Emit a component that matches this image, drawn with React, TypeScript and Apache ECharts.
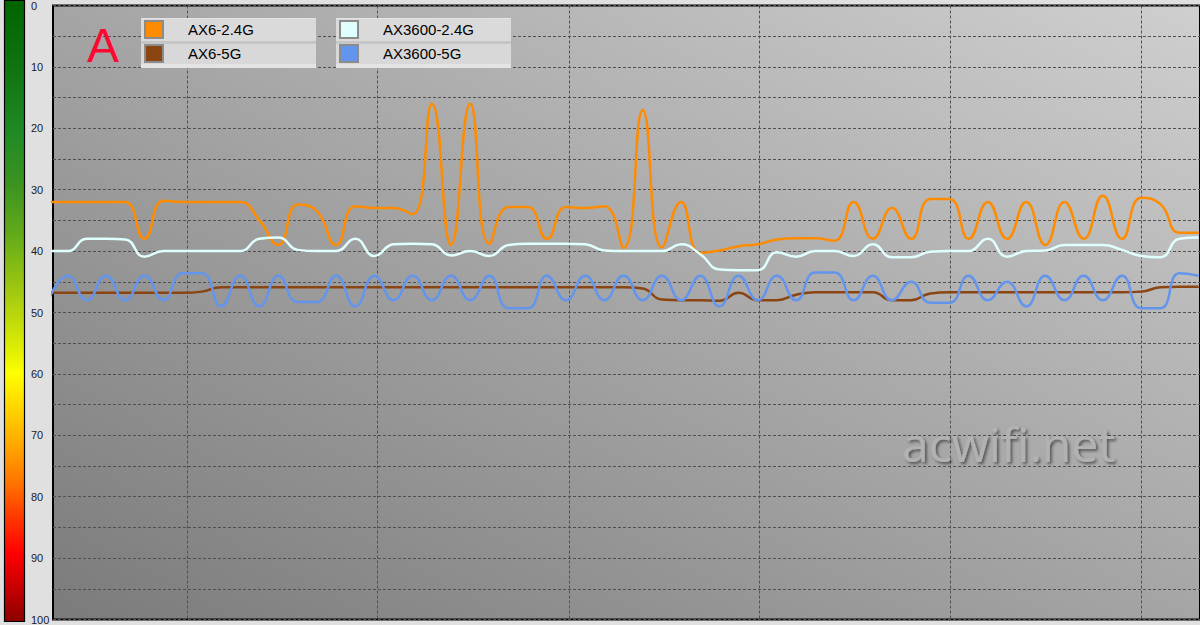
import React, { useEffect, useRef } from "react";
import * as echarts from "echarts";

// Series names and colours
const SERIES_NAMES = ["AX6-2.4G", "AX6-5G", "AX3600-2.4G", "AX3600-5G"];
const SERIES_COLORS = ["#ff8c00", "#8b4513", "#e0ffff", "#6495ed"];

// Signal values (dBm magnitude) per sample index 0..60
const AX6_24G = [
  32, 32, 32, 32, 32, 38, 31.8, 32, 32, 32,
  32, 35, 39, 32.4, 33.5, 39, 32.7, 33, 33, 34,
  16, 39, 16, 38.8, 32.8, 32.8, 38, 32.8, 33, 32.7,
  39.5, 17, 39.4, 32, 40.3, 39.9, 39.2, 38.9, 38.1, 37.9,
  37.9, 38.3, 32, 38, 33, 38, 31.5, 31.5, 38, 32,
  38, 32, 39, 32, 38, 31, 38, 31.3, 32.3, 37,
  37,
];
const AX6_5G = [
  46.8, 46.8, 46.8, 46.8, 46.8, 46.8, 46.8, 46.8, 46.6, 45.9,
  45.9, 45.9, 45.9, 45.9, 45.9, 45.9, 45.9, 45.9, 45.9, 45.9,
  45.9, 45.9, 45.9, 45.9, 45.9, 45.9, 45.9, 45.9, 45.9, 45.9,
  45.9, 46.1, 47.9, 48, 48, 48.1, 46.8, 48, 48, 47.1,
  46.7, 46.7, 46.7, 46.7, 48, 48, 46.9, 46.7, 46.7, 46.7,
  46.7, 46.7, 46.7, 46.7, 46.7, 46.7, 46.7, 46.6, 45.9, 45.8,
  45.8,
];
const AX3600_24G = [
  40, 40, 38, 38, 38.1, 40.9, 40, 40, 40, 40,
  40, 38, 37.8, 39.8, 40, 40, 38, 40.8, 38.9, 38.8,
  38.9, 40.7, 40, 40.8, 39, 38.8, 38.8, 38.8, 38.9, 39.9,
  40, 40, 40, 38.9, 40.5, 43, 43.1, 43.1, 40.2, 40.9,
  40, 40, 40.8, 38.9, 41, 41, 40.1, 40, 40, 38,
  40.9, 40, 39.9, 39, 39, 39, 39.8, 40.8, 41, 38,
  37.8,
];
const AX3600_5G = [
  48, 44, 48, 44, 48, 44, 48, 43.6, 43.6, 49,
  44, 49, 44, 48.3, 48.3, 44, 49, 44, 48, 44,
  48, 44, 48, 44, 49.3, 49.3, 44, 48, 44, 48,
  44, 48, 44, 48, 44, 49, 44, 48, 44, 48,
  43.5, 43.5, 48, 44, 48, 45, 48.4, 48.4, 44, 48,
  45, 49, 44, 48, 44, 48, 44, 49.3, 49.3, 43.6,
  44,
];
const SERIES_VALUES = [AX6_24G, AX6_5G, AX3600_24G, AX3600_5G];

// Vertical grid line positions (in sample-index units)
const V_GRID = [7.24, 17.16, 27.17, 37.07, 47.02, 56.98];

// Left colour scale stops
const BAR_STOPS = [
  { offset: 0, color: "#006400" },
  { offset: 0.105, color: "#0f730f" },
  { offset: 0.213, color: "#1f8a24" },
  { offset: 0.294, color: "#3a9320" },
  { offset: 0.375, color: "#62aa1a" },
  { offset: 0.455, color: "#98c412" },
  { offset: 0.51, color: "#bcd80c" },
  { offset: 0.563, color: "#e0ee04" },
  { offset: 0.6, color: "#ffff00" },
  { offset: 0.66, color: "#ffd200" },
  { offset: 0.72, color: "#ffa500" },
  { offset: 0.78, color: "#ff7000" },
  { offset: 0.84, color: "#ff3000" },
  { offset: 0.89, color: "#ff0000" },
  { offset: 0.945, color: "#c80000" },
  { offset: 1, color: "#8b0000" },
];

export default function App() {
  const ref = useRef<HTMLDivElement>(null);
  useEffect(() => {
    const chart = echarts.init(ref.current!, null, { renderer: "svg" });
    const toPts = (arr: number[]) => arr.map((v, i) => [i, v]);
    const legendCommon = {
      orient: "vertical",
      top: 20,
      padding: 0,
      itemWidth: 18,
      itemHeight: 17,
      itemGap: 5,
      icon: "rect",
      z: 10,
      selectedMode: false,
      itemStyle: { borderColor: "#8c8c8c", borderWidth: 2 },
      textStyle: {
        fontSize: 15,
        lineHeight: 17,
        fontFamily: "Liberation Sans",
        color: "#000",
        padding: [0, 0, 0, 20],
      },
    };
    const legendBox = (x: number) => [
      { type: "rect", z: 5, shape: { x, y: 18, width: 175, height: 50 }, style: { fill: "#e4e4e4" } },
      { type: "rect", z: 5, shape: { x, y: 19, width: 175, height: 22 }, style: { fill: "#dadada" } },
      { type: "rect", z: 5, shape: { x, y: 41, width: 175, height: 3 }, style: { fill: "#c6c6c6" } },
      { type: "rect", z: 5, shape: { x, y: 44, width: 175, height: 20 }, style: { fill: "#d8d8d8" } },
    ];
    chart.setOption({
      animation: false,
      backgroundColor: "#e0e0e0",
      grid: {
        left: 53,
        right: -3,
        top: 2,
        bottom: 3,
        show: true,
        borderColor: "#000",
        borderWidth: 2,
        backgroundColor: new echarts.graphic.LinearGradient(0, 1, 1, 0, [
          { offset: 0, color: "#7b7b7b" },
          { offset: 1, color: "#cfcfcf" },
        ]),
      },
      xAxis: {
        type: "value",
        min: 0.234,
        max: 60.07,
        axisLine: { show: false },
        axisTick: { show: false },
        axisLabel: { show: false },
        splitLine: { show: false },
      },
      yAxis: {
        type: "value",
        inverse: true,
        min: 0,
        max: 100,
        interval: 5,
        axisLine: { show: false },
        axisTick: { show: false },
        axisLabel: {
          formatter: (v: number) => (v % 10 === 0 ? String(v) : ""),
          align: "left",
          margin: 22,
          color: "#1a1a2a",
          fontSize: 11,
          fontFamily: "Liberation Sans",
        },
        splitLine: { lineStyle: { type: [3, 2], color: "#505050", width: 1 } },
      },
      legend: [
        { ...legendCommon, left: 144, data: [SERIES_NAMES[0], SERIES_NAMES[1]] },
        { ...legendCommon, left: 339, data: [SERIES_NAMES[2], SERIES_NAMES[3]] },
      ],
      graphic: [
        {
          type: "rect",
          z: 5,
          shape: { x: 4.5, y: 0.5, width: 20, height: 621 },
          style: {
            fill: new echarts.graphic.LinearGradient(0, 0, 0, 1, BAR_STOPS),
            stroke: "#000",
            lineWidth: 1.2,
          },
        },
        ...legendBox(141),
        ...legendBox(336),
        {
          type: "text",
          z: 6,
          x: 87,
          y: 45.5,
          style: {
            text: "A",
            fontSize: 48,
            fontFamily: "Liberation Sans",
            fill: "#fa0a32",
            verticalAlign: "middle",
          },
        },
        {
          type: "text",
          z: 3,
          x: 902,
          y: 443,
          style: {
            text: "acwifi.net",
            fontSize: 48,
            fontFamily: "Open Sans",
            fill: "#b2b2b2",
            verticalAlign: "middle",
            textShadowColor: "rgba(0,0,0,0.5)",
            textShadowBlur: 3,
            textShadowOffsetX: 2,
            textShadowOffsetY: 2,
          },
        },
      ],
      series: SERIES_NAMES.map((name, i) => ({
        name,
        type: "line",
        data: toPts(SERIES_VALUES[i]),
        smooth: 0.5,
        symbol: "none",
        z: 2,
        lineStyle: { width: 2.5, color: SERIES_COLORS[i] },
        itemStyle: { color: SERIES_COLORS[i] },
        ...(i === 0
          ? {
              markLine: {
                silent: true,
                z: 1,
                symbol: ["none", "none"],
                label: { show: false },
                lineStyle: { type: [3, 2], color: "#505050", width: 1 },
                data: V_GRID.map((x) => ({ xAxis: x })),
              },
            }
          : {}),
      })),
    });
    return () => chart.dispose();
  }, []);
  return (
    <div
      ref={ref}
      style={{ position: "absolute", left: 0, top: 0, width: 1200, height: 625, background: "#e0e0e0" }}
    />
  );
}
